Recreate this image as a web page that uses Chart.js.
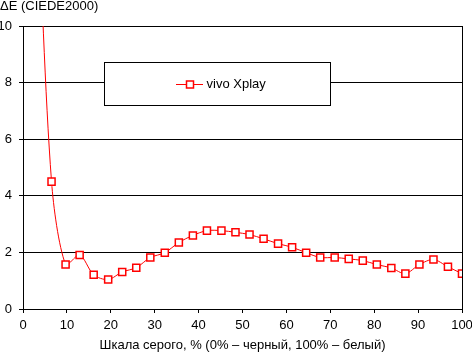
<!DOCTYPE html>
<html>
<head>
<meta charset="utf-8">
<script src="https://cdn.jsdelivr.net/npm/chart.js@4/dist/chart.umd.min.js"></script>
<style>
    html, body { margin: 0; padding: 0; background: #fff; }
    #wrap { width: 472px; height: 352px; }
</style>
</head>
<body>
<div id="wrap"><canvas id="chart" width="472" height="352"></canvas></div>
<script>
// gray levels, % (one point per step)
const grayLevels = [3.2, 6.5, 9.7, 12.9, 16.1, 19.4, 22.6, 25.8, 29.0, 32.3, 35.5,
    38.7, 41.9, 45.2, 48.4, 51.6, 54.8, 58.1, 61.3, 64.5, 67.7, 71.0, 74.2,
    77.4, 80.6, 83.9, 87.1, 90.3, 93.5, 96.8, 100];
// ΔE values (first one is above the top of the plot)
const deltaE = [15, 4.5, 1.57, 1.91, 1.21, 1.04, 1.31, 1.46, 1.82, 1.99, 2.35,
    2.6, 2.77, 2.77, 2.71, 2.63, 2.48, 2.31, 2.18, 1.99, 1.82, 1.82, 1.77,
    1.71, 1.57, 1.45, 1.25, 1.57, 1.75, 1.49, 1.25];
const seriesName = 'vivo Xplay';
const yTitle = 'ΔE (CIEDE2000)';
const xTitle = 'Шкала серого, % (0% – черный, 100% – белый)';

const FONT = 'Liberation Sans, Arial, sans-serif';
const RED = '#ff0000';

// right border of the plot + the boxed legend
const framePlugin = {
    id: 'frame',
    afterDatasetsDraw(chart) {
        const ctx = chart.ctx;
        const a = chart.chartArea;
        ctx.save();
        ctx.strokeStyle = '#000';
        ctx.lineWidth = 1;
        ctx.beginPath();
        ctx.moveTo(a.right + 0.5, a.top);
        ctx.lineTo(a.right + 0.5, a.bottom);
        ctx.stroke();

        const bx = Math.round(a.left) + 81.5;
        const by = Math.round(a.top) + 36.5;
        ctx.fillStyle = '#fff';
        ctx.fillRect(bx, by, 226, 43);
        ctx.strokeRect(bx, by, 226, 43);

        const ly = by + 22;
        ctx.strokeStyle = RED;
        ctx.beginPath();
        ctx.moveTo(bx + 71.5, ly);
        ctx.lineTo(bx + 98.5, ly);
        ctx.stroke();
        ctx.lineWidth = 1.5;
        ctx.fillStyle = '#fff';
        ctx.fillRect(bx + 82, ly - 3.5, 7, 7);
        ctx.strokeRect(bx + 82, ly - 3.5, 7, 7);

        ctx.fillStyle = '#000';
        ctx.font = '13px ' + FONT;
        ctx.textBaseline = 'middle';
        ctx.fillText(seriesName, bx + 102, ly);
        ctx.restore();
    }
};

new Chart(document.getElementById('chart'), {
    type: 'line',
    data: {
        datasets: [{
            label: seriesName,
            data: grayLevels.map((x, i) => ({ x: x, y: deltaE[i] })),
            borderColor: RED,
            borderWidth: 1,
            tension: 0.3,
            pointStyle: 'rect',
            pointRadius: 5,
            pointBorderWidth: 1.5,
            pointBackgroundColor: '#fff',
            pointBorderColor: RED
        }]
    },
    options: {
        responsive: false,
        animation: false,
        devicePixelRatio: 1,
        layout: { padding: 0 },
        plugins: {
            legend: { display: false },
            tooltip: { enabled: false },
            title: {
                display: true,
                text: yTitle,
                align: 'start',
                color: '#000',
                font: { family: FONT, size: 13, weight: 'normal', lineHeight: 1 },
                padding: { top: 0, bottom: 13 }
            }
        },
        scales: {
            x: {
                type: 'linear',
                min: 0,
                max: 100,
                ticks: { stepSize: 10, color: '#000', padding: 5, maxRotation: 0,
                    font: { family: FONT, size: 13 } },
                grid: { drawOnChartArea: false, color: '#000', tickLength: 4 },
                border: { color: '#000' },
                title: {
                    display: true,
                    text: xTitle,
                    color: '#000',
                    font: { family: FONT, size: 13, lineHeight: 1 },
                    padding: 0
                },
                afterFit(scale) {
                    scale.height = 43;
                    scale.paddingLeft = 0;
                    scale.paddingRight = 10;
                }
            },
            y: {
                min: 0,
                max: 10,
                ticks: { stepSize: 2, color: '#000', padding: 7,
                    font: { family: FONT, size: 13 } },
                grid: { color: '#000', tickLength: 4 },
                border: { color: '#000' },
                afterFit(scale) {
                    scale.width = 23;
                    scale.paddingTop = 0;
                    scale.paddingBottom = 0;
                }
            }
        }
    },
    plugins: [framePlugin]
});
</script>
</body>
</html>
